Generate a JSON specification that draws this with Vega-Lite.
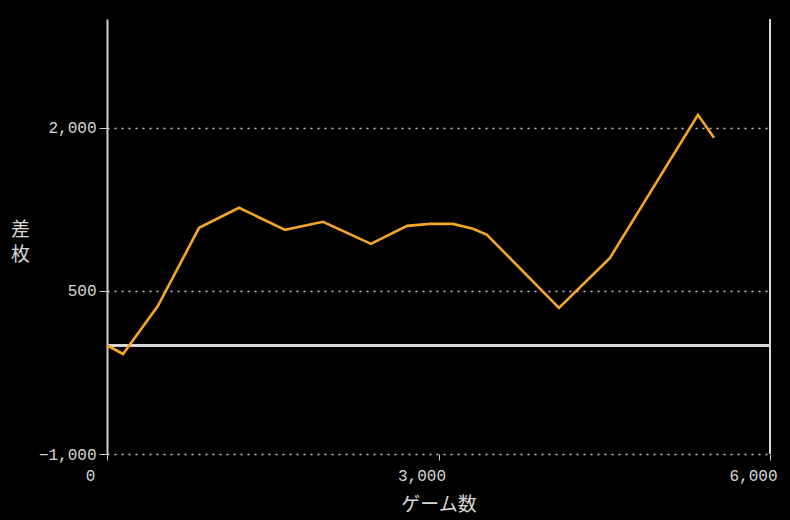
{
  "$schema": "https://vega.github.io/schema/vega-lite/v6.json",
  "width": 663,
  "height": 435,
  "autosize": "none",
  "padding": {"left": 107, "top": 19, "right": 20, "bottom": 66},
  "background": "#000000",
  "config": {
    "view": {"stroke": null},
    "axis": {
      "labelColor": "#d8d8d8",
      "titleColor": "#d8d8d8",
      "labelFont": "Liberation Mono",
      "labelFontSize": 16,
      "titleFont": "Noto Sans CJK JP",
      "titleFontSize": 19,
      "titleFontWeight": "normal",
      "tickColor": "#d0d0d0",
      "domainColor": "#d0d0d0"
    }
  },
  "data": {
    "values": [
      {"game": 0, "diff": 0},
      {"game": 145, "diff": -80},
      {"game": 460, "diff": 360},
      {"game": 833, "diff": 1080},
      {"game": 1195, "diff": 1264},
      {"game": 1611, "diff": 1061},
      {"game": 1955, "diff": 1135},
      {"game": 2389, "diff": 932},
      {"game": 2715, "diff": 1098},
      {"game": 2923, "diff": 1116},
      {"game": 3131, "diff": 1116},
      {"game": 3312, "diff": 1071},
      {"game": 3439, "diff": 1015},
      {"game": 4090, "diff": 343},
      {"game": 4552, "diff": 804},
      {"game": 5348, "diff": 2119},
      {"game": 5493, "diff": 1908}
    ]
  },
  "layer": [
    {
      "mark": {"type": "rule", "color": "#d8d8d8", "strokeWidth": 2},
      "encoding": {"y": {"datum": 0, "type": "quantitative", "scale": {"domain": [-1000, 3000]}}}
    },
    {
      "mark": {"type": "rule", "color": "#d8d8d8", "strokeWidth": 2},
      "encoding": {"x": {"datum": 6000, "type": "quantitative", "scale": {"domain": [0, 6000]}}}
    },
    {
      "mark": {"type": "line", "color": "#f5a623", "strokeWidth": 2.6},
      "encoding": {
        "x": {
          "field": "game",
          "type": "quantitative",
          "scale": {"domain": [0, 6000], "nice": false},
          "axis": {
            "title": "ゲーム数",
            "values": [0, 3000, 6000],
            "format": ",d",
            "domain": false,
            "grid": false,
            "tickSize": 6,
            "labelAlign": "center",
            "labelOffset": -17,
            "labelPadding": 7,
            "labelFlush": false,
            "titlePadding": 12
          }
        },
        "y": {
          "field": "diff",
          "type": "quantitative",
          "scale": {"domain": [-1000, 3000], "nice": false},
          "axis": {
            "title": ["差", "枚"],
            "titleAngle": 0,
            "titleX": -87,
            "titleY": 210,
            "titleAlign": "center",
            "titleBaseline": "middle",
            "titleLineHeight": 25,
            "values": [-1000, 500, 2000],
            "format": ",d",
            "domainWidth": 2,
            "tickSize": 8,
            "labelPadding": 3,
            "grid": true,
            "gridColor": "#c8c8c8",
            "gridDash": [2, 5],
            "gridWidth": 1.5,
            "labelFlush": false
          }
        }
      }
    }
  ]
}
